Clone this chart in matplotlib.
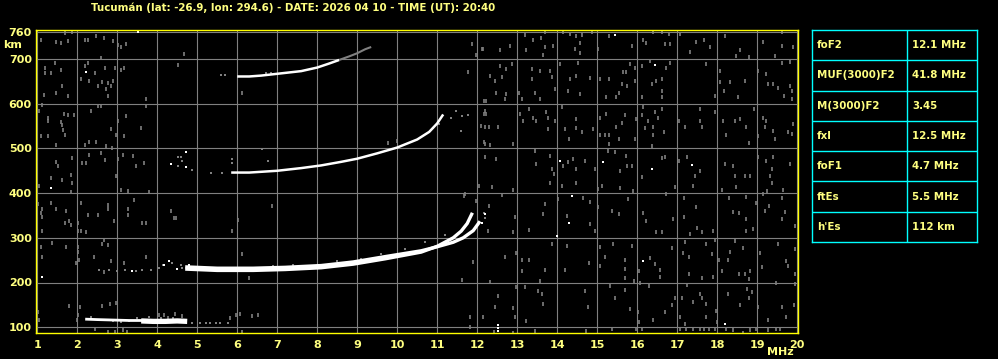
import matplotlib
matplotlib.use('Agg')
import matplotlib.pyplot as plt

# ---------------- data ----------------
title = "Tucumán (lat: -26.9, lon: 294.6) - DATE: 2026 04 10 - TIME (UT): 20:40"
freq_ticks = list(range(1, 21))
height_ticks = [100, 200, 300, 400, 500, 600, 700, 760]

param_names = ["foF2", "MUF(3000)F2", "M(3000)F2", "fxl", "foF1", "ftEs", "h'Es"]
param_values = ["12.1 MHz", "41.8 MHz", "3.45", "12.5 MHz", "4.7 MHz", "5.5 MHz", "112 km"]

# sporadic E trace
es_thin_f = [2.2, 2.5, 2.9, 3.3, 3.65]
es_thin_h = [118, 117, 116, 115, 115]
es_thick_f = [3.6, 3.9, 4.2, 4.5, 4.75]
es_thick_h = [114, 113, 113, 114, 113]

# F trace, ordinary and extraordinary branches
fo_f = [4.7, 5.5, 6.4, 7.2, 8.1, 8.9, 9.7, 10.6, 11.0, 11.4, 11.6, 11.75, 11.88]
fo_h = [230, 227, 227, 229, 233, 241, 253, 268, 281, 300, 315, 332, 356]
fx_f = [4.7, 5.5, 6.4, 7.2, 8.1, 8.9, 9.7, 10.6, 11.0, 11.4, 11.65, 11.9, 12.07]
fx_h = [235, 232, 232, 234, 238, 246, 258, 271, 280, 290, 300, 316, 337]

# second hop F trace
f2_f = [5.85, 6.3, 7.0, 7.6, 8.1, 8.6, 9.0, 9.5, 10.0, 10.5, 10.8, 11.0, 11.15]
f2_h = [446, 446, 450, 456, 462, 470, 477, 489, 502, 520, 537, 556, 576]

# third hop F trace (white part, then faint tail)
f3_f = [6.0, 6.3, 6.6, 7.1, 7.6, 8.0, 8.3, 8.55]
f3_h = [661, 661, 663, 668, 673, 681, 690, 698]
f3_tail_f = [8.55, 8.8, 9.0, 9.2, 9.35]
f3_tail_h = [698, 706, 713, 722, 727]

# faint echoes beside the traces
fringe_f = [4.86, 5.07, 5.23, 5.33, 5.47, 5.57, 5.78, 2.35, 2.6, 2.9, 3.1, 3.3, 3.5, 3.8, 4.1, 4.4, 4.7,
            3.47, 3.63, 3.84, 4.05, 4.38, 4.59, 4.63, 3.2, 3.0, 2.8, 2.55, 4.15,
            4.51, 4.59, 4.63, 4.87, 4.53, 5.34, 5.63, 5.88, 5.88, 6.63, 6.78,
            5.59, 5.7, 6.72, 6.84, 11.48, 11.34, 11.63, 11.78, 11.59, 10.9, 11.05, 12.17, 12.2,
            6.9, 7.4, 8.5, 9.1, 9.6, 10.2, 10.7, 11.2]
fringe_h = [110, 110, 110, 110, 110, 110, 110, 122, 116, 114, 112, 113, 120, 122, 121, 121, 116,
            225, 227, 228, 232, 243, 239, 232, 227, 226, 228, 229, 240,
            480, 480, 472, 452, 460, 445, 446, 476, 467, 499, 472,
            664, 664, 669, 669, 584, 569, 572, 575, 540, 545, 555, 355, 345,
            237, 239, 247, 253, 263, 276, 291, 306]
bright_f = [3.38, 4.17, 4.30, 4.80, 4.5, 4.34, 4.73, 4.72]
bright_h = [226, 239, 249, 239, 230, 465, 493, 458]

# background noise speckles
noise_f = [12.15, 12.58, 12.83, 13.19, 13.40, 13.59, 13.69, 13.69, 13.65, 13.23, 13.90, 14.15, 14.33, 14.48, 14.61,
           14.57, 14.44, 14.57, 14.88, 15.03, 15.29, 15.86, 16.15, 16.23, 16.40, 16.61, 16.69, 16.82, 16.79,
           17.07, 17.33, 17.48, 17.67, 17.83, 18.19, 18.48, 18.58, 18.80, 19.15, 19.61, 19.63, 19.44, 19.90,
           12.23, 12.32, 12.44, 12.57, 12.63, 12.73, 12.73, 12.86, 12.69, 12.48, 13.05, 13.11, 13.36, 13.36,
           13.44, 13.57, 13.58, 13.82, 13.86, 13.94, 14.07, 14.32, 14.48, 14.52, 14.28, 14.57, 14.83, 15.08,
           15.30, 15.23, 15.48, 15.55, 15.61, 15.65, 15.73, 15.75, 15.94, 15.94, 15.82, 16.11, 16.11, 16.32,
           16.48, 16.61, 16.36, 16.63, 16.63, 16.82, 16.73, 17.73, 17.94, 18.08, 18.08, 18.17, 18.33, 18.52,
           18.69, 19.03, 19.23, 19.27, 19.40, 19.53, 19.82, 19.67, 19.86, 19.88, 19.61, 19.82,
           12.19, 12.23, 12.19, 12.30, 12.53, 12.19, 12.32, 12.90, 13.07, 13.15, 13.30, 13.40, 13.48, 13.73,
           13.78, 13.78, 13.94, 14.13, 14.19, 14.30, 14.48, 14.48, 14.61, 14.90, 15.08, 15.23, 15.08, 15.19,
           15.30, 15.30, 15.55, 15.48, 15.63, 15.69, 15.94, 15.98, 16.15, 16.13, 16.19, 16.28, 16.40, 16.40,
           16.38, 16.44, 16.53, 16.63, 16.67, 17.05, 17.19, 17.58, 17.58, 17.63, 17.94, 18.15, 18.23, 18.44,
           18.57, 18.73, 18.80, 18.92, 19.03, 19.22, 19.15, 19.40, 19.44, 19.19, 19.78, 19.86, 19.90,
           12.19, 12.48, 13.44, 13.47, 13.82, 13.86, 13.92, 14.15, 14.28, 14.40, 14.48, 14.69, 14.94, 15.28,
           15.44, 15.73, 15.75, 15.88, 15.57, 16.11, 16.61, 16.69, 17.05, 17.25, 17.44, 17.57, 18.19, 18.40,
           18.44, 18.69, 18.82, 19.03, 19.23, 19.40, 19.38, 19.32, 19.82,
           12.38, 12.63, 12.30, 12.27, 12.90, 12.94, 12.90, 13.30, 13.69, 13.65, 13.83, 14.03, 14.13, 14.25,
           14.48, 14.65, 14.83, 14.83, 14.94, 15.03, 15.03, 15.13, 15.58, 15.36, 15.55, 15.78, 15.90, 16.15,
           16.23, 16.48, 16.61, 16.90, 16.94, 16.73, 17.17, 17.17, 17.32, 17.40, 17.48, 17.50, 17.63, 17.90,
           18.11, 18.30, 18.40, 18.55, 18.47, 18.73, 18.73, 18.73, 18.90, 18.97, 19.15, 19.25, 19.19, 19.30,
           19.38, 19.61, 19.65, 19.69, 19.63, 19.94,
           12.98, 13.13, 13.30, 13.13, 12.69, 13.57, 13.69, 13.88, 14.19, 14.25, 14.80, 15.08, 15.08, 15.19,
           15.40, 15.69, 15.69, 15.69, 15.86, 15.92, 16.05, 16.32, 16.44, 16.57, 16.58, 16.88, 17.15, 17.19,
           17.30, 17.30, 17.63, 17.73, 17.88, 17.90, 17.94, 18.05, 18.13, 18.27, 18.33, 18.44, 18.55, 18.65,
           18.69, 18.80, 18.83, 19.08, 19.11, 19.53, 19.73, 19.78, 19.94, 19.94,
           12.33, 12.53, 12.44, 12.90, 12.97, 12.94, 13.19, 13.23, 13.52, 13.63, 13.65, 14.69, 14.78, 15.33,
           15.44, 15.69, 15.83, 16.03, 16.05, 16.08, 16.30, 16.40, 16.69, 16.86, 16.94, 17.13, 17.07, 17.19,
           17.25, 17.40, 17.58, 17.61, 17.73, 17.73, 17.98, 18.00, 18.27, 18.58, 18.75, 18.80, 18.88, 19.03,
           19.27, 19.47, 19.63, 19.72, 19.92, 19.94,
           12.90, 13.44, 14.73, 15.36, 15.98, 16.13, 17.07, 17.23, 17.40, 17.57, 17.67, 17.80, 17.94, 18.22,
           18.40, 18.65, 18.82, 18.97, 19.27, 19.47, 19.57,
           1.09, 1.48, 1.59, 1.70, 1.78, 1.88, 2.20, 2.28, 2.48, 2.67, 2.90, 3.03, 3.09, 3.23, 2.59,
           1.20, 1.20, 1.34, 1.45, 1.59, 2.09, 2.20, 2.28, 2.30, 2.45, 2.53, 2.63, 2.70, 2.73, 2.78, 2.84,
           2.90, 2.78, 2.95, 3.09, 3.18, 1.18, 1.48, 1.63, 1.78, 3.73, 4.53, 4.67,
           1.13, 1.28, 1.28, 1.05, 1.59, 1.62, 1.68, 1.70, 1.78, 1.93, 1.65, 1.09, 1.28, 1.48, 2.34, 2.51,
           2.59, 3.03, 3.22, 2.84, 2.98, 3.18, 3.59, 3.73, 2.20, 2.30, 2.48, 2.73, 2.88,
           1.05, 1.48, 1.51, 1.34, 1.63, 1.84, 1.88, 1.88, 1.84, 2.13, 2.23, 2.30, 2.59, 2.70, 2.98, 3.03,
           3.15, 3.09, 3.28, 3.40, 3.48, 3.68, 3.80, 11.88, 12.13, 11.97, 11.78, 12.18, 12.18, 12.09, 12.18,
           12.05, 11.67,
           1.34, 1.03, 1.13, 1.09, 1.13, 1.48, 1.73, 1.69, 1.80, 1.84, 2.03, 2.09, 2.03, 2.09, 2.23, 2.28,
           2.53, 2.78, 2.78, 2.93, 3.28, 3.28, 3.43, 3.63, 3.73, 1.13, 4.34, 4.42, 4.48, 1.38, 1.09, 1.73,
           2.03, 2.03, 2.05, 1.98, 2.43, 2.63, 2.68, 2.78, 2.84, 3.18, 1.13, 2.68, 3.73,
           1.03, 1.05, 1.80, 2.07, 2.03, 2.00, 2.44, 2.63, 2.78, 2.83, 2.98, 2.94, 3.15, 3.25, 4.05, 4.17,
           4.44, 4.27, 4.63, 5.82, 5.98, 6.08, 6.13, 6.36, 6.52, 11.82, 12.15, 11.83, 12.42,
           6.02, 5.88, 6.88, 6.13, 6.30, 11.69, 11.98, 11.63, 11.90, 6.13, 9.78, 10.0]
noise_h = [722, 721, 730, 754, 743, 748, 761, 726, 709, 721, 730, 761, 756, 752, 754,
           737, 722, 713, 761, 722, 752, 730, 743, 737, 761, 761, 733, 733, 756,
           756, 716, 739, 743, 726, 752, 707, 721, 704, 739, 730, 761, 707, 726,
           607, 661, 651, 685, 659, 677, 622, 689, 610, 625, 625, 610, 655, 677,
           625, 674, 610, 674, 659, 633, 689, 655, 663, 692, 629, 622, 657, 655,
           655, 614, 614, 625, 644, 670, 670, 640, 681, 651, 689, 685, 614, 696,
           651, 655, 644, 629, 614, 692, 681, 689, 618, 674, 648, 629, 648, 614,
           651, 674, 666, 644, 644, 636, 640, 618, 629, 610, 692, 694,
           584, 577, 548, 548, 548, 510, 507, 510, 577, 562, 588, 567, 562, 582,
           569, 543, 562, 592, 543, 521, 566, 545, 536, 543, 569, 577, 530, 530,
           530, 510, 522, 547, 558, 575, 522, 566, 592, 575, 545, 562, 547, 530,
           506, 581, 569, 588, 536, 562, 547, 588, 562, 547, 582, 562, 530, 562,
           566, 547, 513, 588, 527, 562, 567, 540, 521, 548, 536, 532, 554,
           481, 476, 495, 465, 484, 454, 443, 460, 469, 476, 454, 472, 454, 495,
           493, 484, 461, 460, 450, 435, 478, 480, 472, 480, 439, 450, 465, 461,
           439, 439, 439, 480, 472, 480, 454, 439, 465,
           413, 396, 372, 316, 407, 346, 312, 317, 375, 354, 422, 387, 416, 349,
           422, 390, 381, 331, 316, 409, 368, 416, 411, 360, 353, 387, 404, 355,
           337, 314, 314, 342, 414, 398, 390, 346, 308, 416, 368, 323, 314, 316,
           407, 390, 357, 355, 413, 392, 342, 316, 319, 377, 398, 404, 360, 372,
           422, 389, 407, 357, 342, 327,
           265, 250, 250, 226, 256, 204, 228, 287, 228, 282, 243, 280, 237, 256,
           287, 250, 230, 211, 282, 204, 225, 255, 241, 228, 213, 278, 267, 290,
           258, 220, 211, 287, 263, 213, 295, 250, 225, 250, 269, 292, 220, 278,
           219, 208, 225, 267, 234, 286, 247, 237, 220, 275,
           202, 170, 146, 144, 189, 123, 189, 113, 180, 174, 153, 181, 146, 193,
           166, 183, 140, 133, 111, 198, 193, 116, 133, 150, 166, 165, 123, 107,
           195, 157, 174, 165, 153, 122, 137, 111, 174, 150, 185, 166, 178, 146,
           116, 198, 146, 123, 150, 196,
           88, 92, 92, 95, 95, 97, 95, 97, 97, 97, 97, 97, 97, 95,
           93, 88, 93, 97, 93, 97, 95,
           743, 739, 736, 758, 741, 761, 743, 743, 752, 746, 741, 731, 726, 734, 702,
           679, 669, 669, 691, 676, 655, 684, 691, 652, 669, 639, 649, 679, 634, 646, 639,
           652, 617, 679, 676, 681, 619, 625, 639, 617, 611, 687, 711,
           597, 569, 562, 584, 560, 552, 577, 530, 575, 575, 542, 528, 528, 508, 584, 596,
           594, 562, 572, 543, 530, 527, 545, 594, 508, 514, 514, 505, 502,
           417, 470, 461, 433, 430, 440, 478, 422, 403, 467, 467, 485, 490, 475, 439, 476,
           485, 408, 405, 482, 460, 467, 403, 734, 722, 708, 670, 607, 577, 551, 514,
           417, 394,
           377, 376, 364, 356, 347, 364, 361, 333, 338, 329, 334, 379, 316, 316, 312, 351,
           351, 374, 364, 338, 364, 351, 385, 334, 334, 316, 361, 344, 344, 289, 280, 279,
           280, 269, 250, 244, 258, 286, 294, 284, 249, 244, 258, 224, 258,
           135, 116, 148, 145, 128, 115, 96, 148, 90, 152, 155, 90, 94, 90, 128, 128,
           130, 120, 125, 120, 128, 130, 90, 125, 128, 122, 122, 100, 90,
           340, 315, 371, 263, 211, 397, 382, 205, 246, 624, 513, 517]

white_f = [15.44, 16.44, 14.08, 15.15, 16.38, 17.38, 12.19, 12.11, 14.36, 14.30, 14.00, 16.15, 18.19,
           12.53, 12.53, 12.53, 3.53, 2.23, 1.34, 1.13]
white_h = [754, 686, 472, 469, 455, 463, 353, 334, 394, 334, 305, 247, 107,
           92, 98, 104, 761, 672, 411, 213]

# ---------------- style ----------------
YEL_TXT = '#ffff80'
YEL_FRAME = '#ffff00'
GRID = '#808080'
CYAN = '#00ffff'
FONT = ['DejaVu Sans']

fig = plt.figure(figsize=(9.98, 3.59), dpi=100, facecolor='black')
ax = fig.add_axes([36 / 998, 26 / 359, 762 / 998, 303 / 359], facecolor='black')
ax.set_xlim(0.97, 20.02)
ax.set_ylim(87, 765)

ax.set_axisbelow(True)
ax.grid(True, color=GRID, lw=0.8)
for sp in ax.spines.values():
    sp.set_color(YEL_FRAME)
    sp.set_linewidth(1.0)

ax.set_xticks(freq_ticks)
ax.set_xticklabels([str(v) for v in freq_ticks])
ax.set_yticks(height_ticks)
ax.set_yticklabels([str(v) for v in height_ticks])
ax.tick_params(axis='both', length=0, colors=YEL_TXT, labelsize=8)
ax.tick_params(axis='x', pad=5)
ax.tick_params(axis='y', pad=3)
for lab in ax.get_xticklabels() + ax.get_yticklabels():
    lab.set_fontfamily(FONT)
    lab.set_fontweight('bold')

# noise
ax.plot(noise_f, noise_h, ls='none', marker='|', ms=2.6, mew=1.2, color=GRID)
ax.plot(fringe_f, fringe_h, ls='none', marker='s', ms=2.0, mew=0, color=GRID)
ax.plot(white_f, white_h, ls='none', marker='s', ms=1.8, mew=0, color='white')
ax.plot(bright_f, bright_h, ls='none', marker='s', ms=2.0, mew=0, color='white')

# traces
ax.plot(es_thin_f, es_thin_h, color='white', lw=2.0, solid_capstyle='butt')
ax.plot(es_thick_f, es_thick_h, color='white', lw=3.8, solid_capstyle='butt')
ax.plot(fo_f, fo_h, color='white', lw=2.4, solid_capstyle='butt')
ax.plot(fx_f, fx_h, color='white', lw=2.4, solid_capstyle='butt')
ax.plot(f2_f, f2_h, color='white', lw=1.8, solid_capstyle='butt')
ax.plot(f3_f, f3_h, color='white', lw=1.8, solid_capstyle='butt')
ax.plot(f3_tail_f, f3_tail_h, color=GRID, lw=1.5, solid_capstyle='butt')

# texts
fig.text(91 / 998, 1 - 7.5 / 359, title, color=YEL_TXT, fontsize=7.4, fontweight='bold',
         family=FONT, ha='left', va='center')
fig.text(13 / 998, 1 - 44.5 / 359, 'km', color=YEL_TXT, fontsize=8, fontweight='bold',
         family=FONT, ha='center', va='center')
fig.text(780 / 998, 1 - 352 / 359, 'MHz', color=YEL_TXT, fontsize=8, fontweight='bold',
         family=FONT, ha='center', va='center')

# parameter table
tab = fig.add_axes([812 / 998, 1 - 242 / 359, 165 / 998, 212 / 359], facecolor='black')
n = len(param_names)
tab.set_xlim(0, 165)
tab.set_ylim(n, 0)
tab.set_xticks([])
tab.set_yticks([])
for sp in tab.spines.values():
    sp.set_color(CYAN)
    sp.set_linewidth(1.0)
for i in range(1, n):
    tab.axhline(i, color=CYAN, lw=1.0)
tab.axvline(95, color=CYAN, lw=1.0)
for i, (nm, val) in enumerate(zip(param_names, param_values)):
    tab.text(5, i + 0.5, nm, color=YEL_TXT, fontsize=7.4, fontweight='bold', family=FONT,
             ha='left', va='center')
    tab.text(100.5, i + 0.5, val, color=YEL_TXT, fontsize=7.4, fontweight='bold', family=FONT,
             ha='left', va='center')

fig.savefig('out.png', dpi=100, facecolor='black')
